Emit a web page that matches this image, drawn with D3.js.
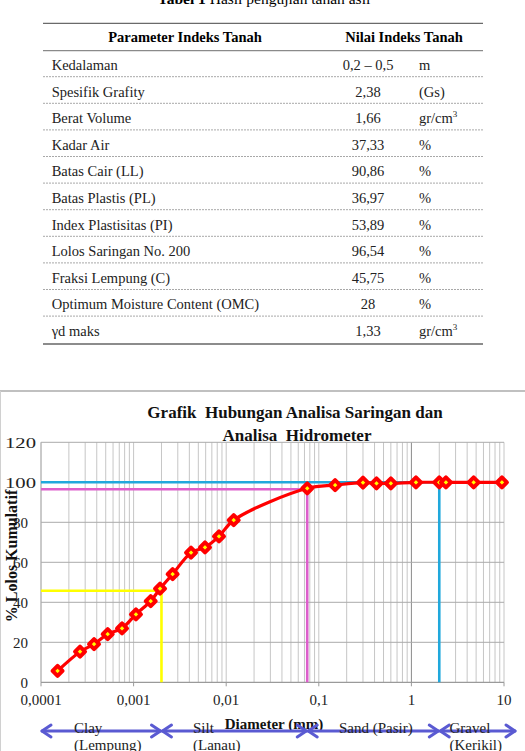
<!DOCTYPE html>
<html><head><meta charset="utf-8">
<script src="https://cdn.jsdelivr.net/npm/d3@7"></script>
<style>
html,body{margin:0;padding:0;background:#fff;}
svg{display:block;font-family:"Liberation Serif","Times New Roman",serif;}
text{white-space:pre;}
</style></head><body>
<svg id="c" width="525" height="751"></svg>
<script>
// ---------- Table data ----------
const tableTitleBold = "Tabel 1 ";
const tableTitle = "Hasil pengujian tanah asli";
const tableHeaders = ["Parameter Indeks Tanah", "Nilai Indeks Tanah"];
const paramNames = ["Kedalaman","Spesifik Grafity","Berat Volume","Kadar Air","Batas Cair (LL)","Batas Plastis (PL)","Index Plastisitas (PI)","Lolos Saringan No. 200","Fraksi Lempung (C)","Optimum Moisture Content (OMC)","\u03b3d maks"];
const paramValues = ["0,2 \u2013 0,5","2,38","1,66","37,33","90,86","36,97","53,89","96,54","45,75","28","1,33"];
const paramUnits = ["m","(Gs)","gr/cm3","%","%","%","%","%","%","%","gr/cm3"];

// ---------- Chart data ----------
const chartTitle = ["Grafik  Hubungan Analisa Saringan dan", "Analisa  Hidrometer"];
const diameters = [0.000151,0.000264,0.000374,0.000525,0.00075,0.00106,0.00153,0.00193,0.00264,0.00417,0.0059,0.00836,0.01205,0.075,0.15,0.3,0.42,0.6,1.12,2.0,2.36,4.7,9.5];
const passing   = [5.7,15.3,19.1,24.1,27.0,34.0,40.6,46.8,54.1,64.8,67.5,73.0,81.1,97.0,98.6,99.8,99.5,99.5,100,100,100,100,100];
const xTickValues = [0.0001,0.001,0.01,0.1,1,10];
const xTickLabels = ["0,0001","0,001","0,01","0,1","1","10"];
const yTickValues = [0,20,40,60,80,100,120];
const refLimits = [0.002, 0.075, 2];        // clay/silt, silt/sand, sand/gravel (mm)
const refPassing = [45.75, 96.54, 100];
const refColors = ["#ffff00","#dd5fcc","#20a8dc"];
const zoneBounds = [0.0001, 0.002, 0.075, 2, 12.5];
const zoneLine1 = ["Clay","Silt","Sand (Pasir)","Gravel"];
const zoneLine2 = ["(Lempung)","(Lanau)","","(Kerikil)"];
const xLabel = "Diameter (mm)";
const yLabel = "% Lolos Kumulatif";

const svg = d3.select("#c");

// ---------- Table ----------
const tt = svg.append("text").attr("x",264).attr("y",4).attr("text-anchor","middle").style("font-size","15.5px");
tt.append("tspan").attr("font-weight","bold").text(tableTitleBold);
tt.append("tspan").text(tableTitle);

const tL = 43, tR = 483;
svg.append("line").attr("x1",tL).attr("x2",tR).attr("y1",23.3).attr("y2",23.3).attr("stroke","#6a6a6a").attr("stroke-width",1.3);
svg.append("line").attr("x1",tL).attr("x2",tR).attr("y1",50.7).attr("y2",50.7).attr("stroke","#8a8a8a").attr("stroke-width",1.3);
svg.append("text").attr("x",185).attr("y",42).attr("text-anchor","middle").attr("font-weight","bold").style("font-size","14.5px").text(tableHeaders[0]);
svg.append("text").attr("x",404).attr("y",42).attr("text-anchor","middle").attr("font-weight","bold").style("font-size","14.5px").text(tableHeaders[1]);

const rowY = d3.scaleLinear().domain([0,1]).range([70,96.6]);
paramNames.forEach((n,i)=>{
  const by = rowY(i);
  svg.append("text").attr("x",51.7).attr("y",by).style("font-size","14.5px").attr("fill","#222").text(n);
  svg.append("text").attr("x",368).attr("y",by).attr("text-anchor","middle").style("font-size","14.5px").attr("fill","#222").text(paramValues[i]);
  const u = paramUnits[i];
  const ut = svg.append("text").attr("x",419).attr("y",by).style("font-size","14.5px").attr("fill","#222");
  if (u.endsWith("3")) {
    ut.append("tspan").text(u.slice(0,-1));
    ut.append("tspan").attr("dy",-6).style("font-size","9px").text("3");
  } else ut.text(u);
  const ly = by + 6.7;
  const last = i === paramNames.length-1;
  svg.append("line").attr("x1",tL).attr("x2",tR).attr("y1",last?ly+1.3:ly).attr("y2",last?ly+1.3:ly)
    .attr("stroke", last ? "#8c8c8c" : "#a8a8a8")
    .attr("stroke-width", last ? 2 : 1)
    .attr("stroke-dasharray", last ? null : "2,1");
});

// ---------- Chart frame ----------
svg.append("line").attr("x1",0).attr("x2",525).attr("y1",391).attr("y2",391).attr("stroke","#c0c0c0").attr("stroke-width",2);
svg.append("line").attr("x1",0.5).attr("x2",0.5).attr("y1",391).attr("y2",751).attr("stroke","#d0d0d0").attr("stroke-width",1);

const x = d3.scaleLog().domain([1e-4,10]).range([41,504]);
const y = d3.scaleLinear().domain([0,120]).range([682.3,442.3]);

// title
chartTitle.forEach((t,i)=>{
  svg.append("text").attr("x", i===0?295:297).attr("y", 418 + i*23).attr("text-anchor","middle")
    .attr("font-weight","bold").style("font-size","17px").attr("fill","#111").text(t);
});

// vertical grid
const minor = [];
for (let k=-4;k<1;k++) for (let m=1;m<10;m++) minor.push(m*Math.pow(10,k));
minor.push(10);
svg.append("g").selectAll("line").data(minor).join("line")
  .attr("x1",d=>x(d)).attr("x2",d=>x(d)).attr("y1",y(0)).attr("y2",y(120))
  .attr("stroke",d=>Math.abs(d-1)<1e-9?"#8a8a8a":"#c6c6c6").attr("stroke-width",1);
// horizontal grid
svg.append("g").selectAll("line").data(yTickValues.slice(1)).join("line")
  .attr("x1",x(1e-4)).attr("x2",x(10)).attr("y1",d=>y(d)).attr("y2",d=>y(d))
  .attr("stroke","#ababab").attr("stroke-width",1);
// x axis line + ticks
svg.append("line").attr("x1",x(1e-4)).attr("x2",x(10)).attr("y1",y(0)).attr("y2",y(0)).attr("stroke","#9a9a9a").attr("stroke-width",1.2);
svg.append("line").attr("x1",x(1e-4)).attr("x2",x(1e-4)).attr("y1",y(0)).attr("y2",y(120)).attr("stroke","#b0b0b0").attr("stroke-width",1);
svg.append("g").selectAll("line").data(xTickValues).join("line")
  .attr("x1",d=>x(d)).attr("x2",d=>x(d)).attr("y1",y(0)).attr("y2",y(0)+4).attr("stroke","#9a9a9a");

// tick labels
svg.append("g").selectAll("text").data(xTickValues).join("text")
  .attr("x",d=>x(d)).attr("y",705).attr("text-anchor","middle").style("font-size","15px").attr("fill","#222")
  .text((d,i)=>xTickLabels[i]);
svg.append("g").selectAll("text").data(yTickValues).join("text")
  .each(function(d){
    const s = d3.select(this), lab = String(d);
    s.attr("y", y(d)+5.3).style("font-size","15px").attr("fill","#222").text(lab);
    if (lab.length>=3) s.attr("x",5).attr("textLength",31).attr("lengthAdjust","spacingAndGlyphs");
    else s.attr("x",28).attr("text-anchor","end");
  });

// reference lines
refLimits.forEach((d,i)=>{
  const p = d3.path();
  p.moveTo(x(1e-4), y(refPassing[i])); p.lineTo(x(d), y(refPassing[i])); p.lineTo(x(d), y(0));
  svg.append("path").attr("d",p.toString()).attr("fill","none").attr("stroke",refColors[i]).attr("stroke-width",2.6);
});

// data line
const pts = diameters.map((d,i)=>[x(d), y(passing[i])]);
svg.append("path").attr("d", d3.line().curve(d3.curveCatmullRom.alpha(0.5))(pts))
  .attr("fill","none").attr("stroke","#ff0000").attr("stroke-width",3.2);
svg.append("g").selectAll("path").data(pts).join("path")
  .attr("d",d=>`M${d[0]},${d[1]-5}L${d[0]+5},${d[1]}L${d[0]},${d[1]+5}L${d[0]-5},${d[1]}Z`)
  .attr("fill","#ffff00").attr("stroke","#ff0000").attr("stroke-width",4).attr("stroke-linejoin","round");

// axis titles
svg.append("text").attr("transform","translate(17,556) rotate(-90)").attr("text-anchor","middle")
  .attr("font-weight","bold").style("font-size","16px").attr("fill","#111").text(yLabel);
svg.append("text").attr("x",274).attr("y",729).attr("text-anchor","middle")
  .attr("font-weight","bold").style("font-size","15px").attr("fill","#111").text(xLabel);

// zone arrows
const arrowY = 731, ac = "#5a5ad2";
const zoneX = [x(zoneBounds[0]), x(zoneBounds[1]), x(zoneBounds[2]), x(zoneBounds[3]), 516];
const zoneTextX = [74, 193, 339, 449.5];
for (let i=0;i<4;i++){
  const a = zoneX[i], b = zoneX[i+1];
  const g = svg.append("g").attr("stroke",ac).attr("stroke-width",3).attr("fill","none").attr("stroke-linecap","round").attr("stroke-linejoin","round");
  g.append("line").attr("x1",a+1).attr("x2",b-1).attr("y1",arrowY).attr("y2",arrowY);
  g.append("path").attr("d",`M${a+10},${arrowY-6}L${a+1},${arrowY}L${a+10},${arrowY+6}`);
  g.append("path").attr("d",`M${b-10},${arrowY-6}L${b-1},${arrowY}L${b-10},${arrowY+6}`);
  svg.append("text").attr("x",zoneTextX[i]).attr("y",733).style("font-size","15px").attr("fill","#222").text(zoneLine1[i]);
  if (zoneLine2[i]) svg.append("text").attr("x",zoneTextX[i]).attr("y",750).style("font-size","15px").attr("fill","#222").text(zoneLine2[i]);
}
</script></body></html>
